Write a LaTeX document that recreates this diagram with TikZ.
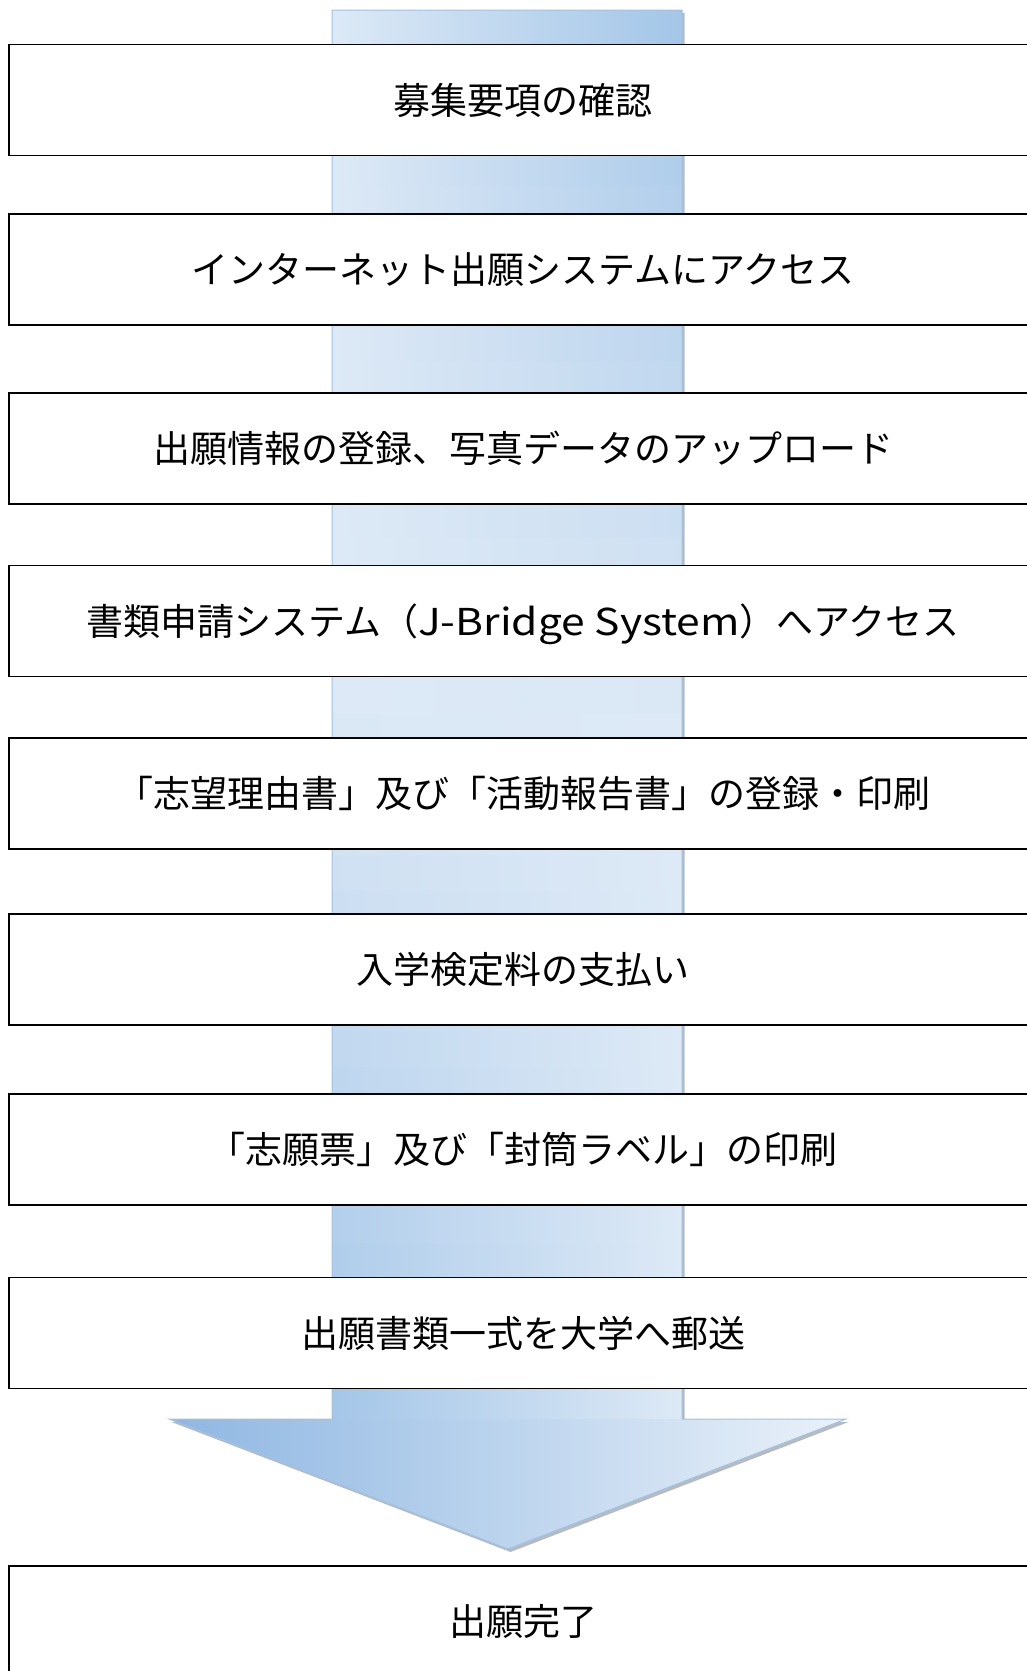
\documentclass[tikz,border=0pt]{standalone}
\usepackage{fontspec}
\setmainfont{Noto Sans CJK JP}
\usepackage{xcolor}
\usepackage{graphicx}
\definecolor{flow_pale}{HTML}{DDE9F6}
\definecolor{flow_blue}{HTML}{A4C6E8}
\definecolor{flow_deep}{HTML}{8FB7E2}
\definecolor{flow_tip}{HTML}{EAF1F9}
\definecolor{flow_edge}{HTML}{9DC3E6}
\definecolor{flow_shadow}{HTML}{8C8C8C}

\tikzset{
  stepbox/.style={draw=black, line width=1.6pt, fill=white,
    minimum width=1028pt, minimum height=111pt, inner sep=0pt,
    font=\fontsize{37}{44}\selectfont, text height=32.5pt, text depth=4.5pt}
}

\begin{document}
\begin{tikzpicture}[x=1pt, y=-1pt]
    % Page: 1026 x 1671 (pixels of the reference)
    \useasboundingbox (0,0) rectangle (1026,1671);

    % Outline points of the big down arrow
    \coordinate (a1) at (332,10);
    \coordinate (a2) at (682,10);
    \coordinate (a3) at (682,1419);
    \coordinate (a4) at (846,1419);
    \coordinate (a5) at (508,1549);
    \coordinate (a6) at (169,1419);
    \coordinate (a7) at (332,1419);

    % Soft shadow below the arrow
    \fill[flow_shadow, opacity=0.6]
      ([shift={(2.5,3)}]a1) -- ([shift={(2.5,3)}]a2) -- ([shift={(2.5,3)}]a3)
      -- ([shift={(2.5,3)}]a4) -- ([shift={(2.5,3)}]a5) -- ([shift={(2.5,3)}]a6)
      -- ([shift={(2.5,3)}]a7) -- cycle;

    % Arrow body, shaded in strips
    \begin{scope}
      \clip (a1) -- (a2) -- (a3) -- (a4) -- (a5) -- (a6) -- (a7) -- cycle;
      % upper half: right side goes from blue to pale
      \foreach \i in {0,...,19} {
        \pgfmathtruncatemacro\p{100-5*\i}
        \shade[left color=flow_pale, right color=flow_blue!\p!flow_pale]
          (332,{10+35.25*\i}) rectangle (682,{46+35.25*\i});
      }
      % lower half: left side goes from pale to blue
      \foreach \i in {0,...,19} {
        \pgfmathtruncatemacro\p{5*(\i+1)}
        \shade[left color=flow_blue!\p!flow_pale, right color=flow_pale]
          (332,{714.5+35.25*\i}) rectangle (682,{750.5+35.25*\i});
      }
      % arrowhead
      \shade[left color=flow_deep, right color=flow_tip] (169,1419) rectangle (846,1549);
    \end{scope}
    \draw[flow_edge, line width=1pt, line join=miter]
      (a1) -- (a2) -- (a3) -- (a4) -- (a5) -- (a6) -- (a7) -- cycle;

    % Steps, drawn over the arrow
    \foreach \n/\y/\txt in {1/100/募集要項の確認,
        2/269.5/インターネット出願システムにアクセス,
        3/448.5/出願情報の登録、写真データのアップロード,
        4/621/書類申請システム（\scalebox{1.15}[1]{J-Bridge System}）へアクセス,
        5/793.5/「志望理由書」及び「活動報告書」の登録・印刷,
        6/969.5/入学検定料の支払い,
        7/1149.5/「志願票」及び「封筒ラベル」の印刷,
        8/1333/出願書類一式を大学へ郵送,
        9/1621.5/出願完了} {
      \node[stepbox] (step\n) at (523,\y) {\txt};
    }

\end{tikzpicture}
\end{document}
